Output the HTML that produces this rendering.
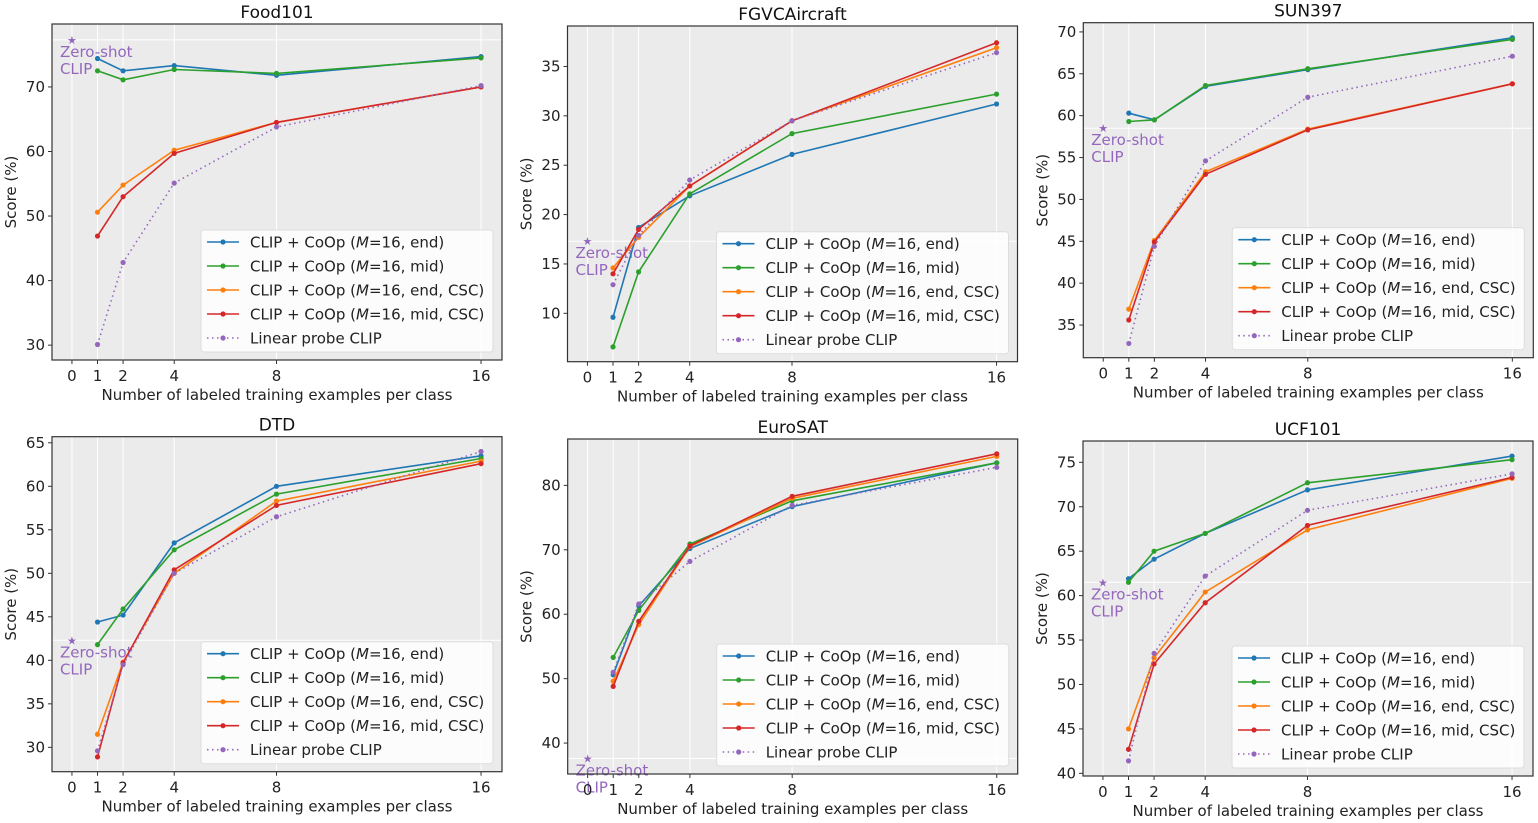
<!DOCTYPE html>
<html><head><meta charset="utf-8"><style>
html,body{margin:0;padding:0;background:#fff;}
svg{display:block;font-family:"DejaVu Sans","Liberation Sans",sans-serif;}
</style></head><body>
<svg id="fig" width="1538" height="823" viewBox="0 0 1538 823" xmlns="http://www.w3.org/2000/svg"></svg>
<script>
const shots = [1, 2, 4, 8, 16];
const xTickLabels = [0, 1, 2, 4, 8, 16];
const seriesNames = ["CLIP + CoOp (M=16, end)", "CLIP + CoOp (M=16, mid)", "CLIP + CoOp (M=16, end, CSC)", "CLIP + CoOp (M=16, mid, CSC)", "Linear probe CLIP"];
const datasetTitles = ["Food101", "FGVCAircraft", "SUN397", "DTD", "EuroSAT", "UCF101"];
const zeroShot = [77.3, 17.3, 58.5, 42.3, 37.6, 61.5];

const food101End = [74.4, 72.5, 73.3, 71.8, 74.7];
const food101Mid = [72.5, 71.1, 72.7, 72.1, 74.5];
const food101EndCSC = [50.6, 54.8, 60.2, 64.5, 70.0];
const food101MidCSC = [46.9, 53.0, 59.7, 64.5, 70.0];
const food101Linear = [30.1, 42.8, 55.1, 63.8, 70.2];

const fgvcEnd = [9.6, 18.7, 21.9, 26.1, 31.2];
const fgvcMid = [6.6, 14.2, 22.1, 28.2, 32.2];
const fgvcEndCSC = [14.6, 17.7, 22.9, 29.5, 36.9];
const fgvcMidCSC = [14.0, 18.5, 22.9, 29.5, 37.4];
const fgvcLinear = [12.9, 17.9, 23.5, 29.5, 36.4];

const sunEnd = [60.3, 59.5, 63.5, 65.5, 69.3];
const sunMid = [59.3, 59.5, 63.6, 65.6, 69.1];
const sunEndCSC = [36.9, 45.1, 53.3, 58.4, 63.8];
const sunMidCSC = [35.6, 44.9, 53.0, 58.3, 63.8];
const sunLinear = [32.8, 44.4, 54.6, 62.2, 67.1];

const dtdEnd = [44.4, 45.2, 53.5, 60.0, 63.5];
const dtdMid = [41.8, 45.9, 52.7, 59.1, 63.2];
const dtdEndCSC = [31.5, 39.8, 50.0, 58.3, 62.9];
const dtdMidCSC = [28.9, 39.7, 50.4, 57.8, 62.6];
const dtdLinear = [29.6, 39.5, 50.0, 56.5, 64.0];

const eurosatEnd = [50.6, 61.3, 70.2, 76.7, 83.5];
const eurosatMid = [53.3, 60.6, 70.9, 77.6, 83.5];
const eurosatEndCSC = [49.6, 58.4, 70.5, 78.0, 84.5];
const eurosatMidCSC = [48.8, 58.9, 70.6, 78.3, 84.9];
const eurosatLinear = [51.0, 61.6, 68.2, 76.9, 82.8];

const ucfEnd = [61.9, 64.1, 67.0, 71.9, 75.7];
const ucfMid = [61.5, 65.0, 67.0, 72.7, 75.3];
const ucfEndCSC = [45.0, 53.0, 60.4, 67.4, 73.2];
const ucfMidCSC = [42.7, 52.3, 59.2, 67.9, 73.3];
const ucfLinear = [41.4, 53.5, 62.2, 69.6, 73.7];

const food101Ticks = [30, 40, 50, 60, 70];
const fgvcTicks = [10, 15, 20, 25, 30, 35];
const sunTicks = [35, 40, 45, 50, 55, 60, 65, 70];
const dtdTicks = [30, 35, 40, 45, 50, 55, 60, 65];
const eurosatTicks = [40, 50, 60, 70, 80];
const ucfTicks = [40, 45, 50, 55, 60, 65, 70, 75];

const colors = ["#1f77b4", "#2ca02c", "#ff7f0e", "#d62728", "#9467bd"];
const NS = "http://www.w3.org/2000/svg";
const svg = document.getElementById("fig");

const panels = [
  {box:[52,24,502,360], ylim:[27.7,79.75], ticks:food101Ticks, series:[food101End,food101Mid,food101EndCSC,food101MidCSC,food101Linear]},
  {box:[567.5,26,1017.5,361.7], ylim:[5.1,39.1], ticks:fgvcTicks, series:[fgvcEnd,fgvcMid,fgvcEndCSC,fgvcMidCSC,fgvcLinear]},
  {box:[1083.3,22.7,1533.3,357.7], ylim:[31.1,71.1], ticks:sunTicks, series:[sunEnd,sunMid,sunEndCSC,sunMidCSC,sunLinear]},
  {box:[52,436.7,502,771.7], ylim:[27.2,65.7], ticks:dtdTicks, series:[dtdEnd,dtdMid,dtdEndCSC,dtdMidCSC,dtdLinear]},
  {box:[567.7,439,1017.7,774], ylim:[35.2,87.2], ticks:eurosatTicks, series:[eurosatEnd,eurosatMid,eurosatEndCSC,eurosatMidCSC,eurosatLinear]},
  {box:[1083,441,1533,776], ylim:[39.7,77.4], ticks:ucfTicks, series:[ucfEnd,ucfMid,ucfEndCSC,ucfMidCSC,ucfLinear]}
];
const xlim = [-0.78, 16.82];

function mk(tag, attrs, parent, text) {
  const e = document.createElementNS(NS, tag);
  for (const k in attrs) e.setAttribute(k, attrs[k]);
  if (text !== undefined) e.textContent = text;
  (parent || svg).appendChild(e);
  return e;
}

panels.forEach((p, pi) => {
  const [x0, y0, x1, y1] = p.box;
  const xs = v => x0 + (v - xlim[0]) / (xlim[1] - xlim[0]) * (x1 - x0);
  const ys = v => y1 - (v - p.ylim[0]) / (p.ylim[1] - p.ylim[0]) * (y1 - y0);
  const g = mk("g", {});
  
  

  const bg = mk("rect", {x:x0, y:y0, width:x1-x0, height:y1-y0, fill:"#ebebeb"}, g);
  
  

  xTickLabels.forEach(t => {
    const gl = mk("line", {x1:xs(t), x2:xs(t), y1:y0, y2:y1, stroke:"#fff", "stroke-width":1}, g);
    
    
  });
  const zl = mk("line", {x1:x0, x2:x1, y1:ys(zeroShot[pi]), y2:ys(zeroShot[pi]), stroke:"#fff", "stroke-width":1}, g);
  
  

  // zero-shot star and label
  const st = mk("text", {x:xs(0), y:ys(zeroShot[pi]) + 4, "text-anchor":"middle", "font-size":11, fill:colors[4]}, g, "★");
  
  
  const zt = mk("text", {x:xs(0) - 12, y:ys(zeroShot[pi]) + 17, "font-size":15, fill:colors[4]}, g);
  
  
  mk("tspan", {x:xs(0) - 12}, zt, "Zero-shot");
  mk("tspan", {x:xs(0) - 12, dy:17}, zt, "CLIP");

  // series
  p.series.forEach((vals, si) => {
    const pts = vals.map((v, i) => xs(shots[i]).toFixed(1) + "," + ys(v).toFixed(1)).join(" ");
    const attrs = {points:pts, fill:"none", stroke:colors[si], "stroke-width":1.6};
    if (si === 4) attrs["stroke-dasharray"] = "1.5,3.5";
    const pl = mk("polyline", attrs, g);
    
    
    vals.forEach((v, i) => {
      const c = mk("circle", {cx:xs(shots[i]), cy:ys(v), r:2.6, fill:colors[si]}, g);
      
      
    });
  });

  // frame
  const fr = mk("rect", {x:x0, y:y0, width:x1-x0, height:y1-y0, fill:"none", stroke:"#333", "stroke-width":1.2}, g);
  
  

  // y ticks
  p.ticks.forEach(t => {
    mk("line", {x1:x0-4, x2:x0, y1:ys(t), y2:ys(t), stroke:"#333", "stroke-width":1}, g);
    const tl = mk("text", {x:x0-7, y:ys(t)+5, "text-anchor":"end", "font-size":15, fill:"#222"}, g, t);
    
    
  });
  // x ticks
  xTickLabels.forEach(t => {
    mk("line", {x1:xs(t), x2:xs(t), y1:y1, y2:y1+4, stroke:"#333", "stroke-width":1}, g);
    const tl = mk("text", {x:xs(t), y:y1+21, "text-anchor":"middle", "font-size":15, fill:"#222"}, g, t);
    
    
  });

  const xl = mk("text", {x:(x0+x1)/2, y:y1+40, "text-anchor":"middle", "font-size":15, fill:"#222"}, g, "Number of labeled training examples per class");
  
  
  const cy = (y0+y1)/2;
  const yl = mk("text", {x:x0-36, y:cy, "text-anchor":"middle", "font-size":15, fill:"#222", transform:"rotate(-90 " + (x0-36) + " " + cy + ")"}, g, "Score (%)");
  
  
  const ti = mk("text", {x:(x0+x1)/2, y:y0-6, "text-anchor":"middle", "font-size":17, fill:"#111"}, g, datasetTitles[pi]);
  
  

  // legend
  const lw = 292, lh = 122;
  const lx = x1 - 9 - lw, ly = y1 - 8 - lh;
  const lg = mk("g", {}, g);
  
  
  mk("rect", {x:lx, y:ly, width:lw, height:lh, rx:3, fill:"#fff", "fill-opacity":0.85, stroke:"#ddd"}, lg);
  seriesNames.forEach((name, si) => {
    const ry = ly + 12 + si * 24;
    const le = mk("g", {}, lg);
    
    
    const la = {x1:lx+6, x2:lx+38, y1:ry, y2:ry, stroke:colors[si], "stroke-width":1.6};
    if (si === 4) la["stroke-dasharray"] = "1.5,3.5";
    mk("line", la, le);
    mk("circle", {cx:lx+22, cy:ry, r:2.6, fill:colors[si]}, le);
    const tx = mk("text", {x:lx+49, y:ry+5.5, "font-size":15, fill:"#222"}, le);
    if (si < 4) {
      const rest = name.replace("CLIP + CoOp (M", "");
      mk("tspan", {}, tx, "CLIP + CoOp (");
      mk("tspan", {"font-style":"italic"}, tx, "M");
      mk("tspan", {}, tx, rest);
    } else {
      tx.textContent = name;
    }
  });
});
</script>
</body></html>
